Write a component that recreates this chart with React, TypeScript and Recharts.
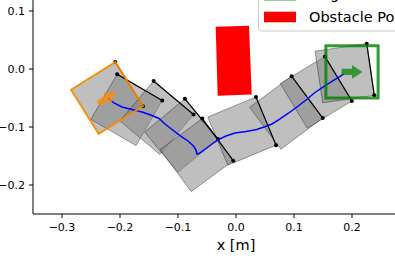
import { ScatterChart, Scatter, XAxis, YAxis } from 'recharts';

// robot poses along the planned path: centre [m], heading [deg]
const poseX = [-0.2224, -0.1887, -0.1366, -0.0942, -0.0677, 0.0102, 0.0866, 0.138, 0.1874];
const poseY = [-0.05, -0.0705, -0.084, -0.1148, -0.1484, -0.107, -0.0754, -0.0401, -0.0073];
const poseTheta = [32.0, 59.8, 49.9, 39.5, 36.3, 22.6, 36.6, 31.2, 8.3];
const robotSide = 0.09;

const goalX = 0.2;
const goalY = -0.005;
const goalTheta = 0;

// centre line of the path
const pathX = [-0.2207, -0.2103, -0.1966, -0.1793, -0.1621, -0.1448, -0.1328, -0.1224, -0.1103, -0.0966, -0.0828, -0.0733, -0.069, -0.0672, -0.0638, -0.0517, -0.0414, -0.0305, -0.0172, -0.0017, 0.0172, 0.0357, 0.0483, 0.0621, 0.0741, 0.0897, 0.1052, 0.1207, 0.1362, 0.1552, 0.1724, 0.1862];
const pathY = [-0.05, -0.0586, -0.0655, -0.0698, -0.0741, -0.0802, -0.0853, -0.0948, -0.1043, -0.1147, -0.1241, -0.1328, -0.1397, -0.1466, -0.1457, -0.1371, -0.1293, -0.1216, -0.1155, -0.1103, -0.1078, -0.1043, -0.1, -0.0948, -0.0871, -0.0767, -0.0655, -0.0534, -0.0405, -0.0276, -0.0172, -0.0086];

const obstacleX = [-0.035, 0.0224, 0.0271, -0.0316];
const obstacleY = [0.0729, 0.0747, -0.044, -0.046];

const xTicks = [-0.3, -0.2, -0.1, 0, 0.1, 0.2];
const yTicks = [-0.2, -0.1, 0, 0.1];

type Pt = { x: number; y: number };

const square = (cx: number, cy: number, deg: number, side: number): Pt[] => {
  const h = side / 2;
  const a = (deg * Math.PI) / 180;
  const c = Math.cos(a);
  const s = Math.sin(a);
  return [[h, h], [h, -h], [-h, -h], [-h, h]].map(([u, v]) => ({
    x: cx + u * c - v * s,
    y: cy + u * s + v * c,
  }));
};

// FancyArrow-like outline, centred on the pose
const arrow = (cx: number, cy: number, deg: number): Pt[] => {
  const L = 0.036, w = 0.011, hw = 0.024, hl = 0.018;
  const a = (deg * Math.PI) / 180;
  const c = Math.cos(a);
  const s = Math.sin(a);
  const local = [[0, w / 2], [L - hl, w / 2], [L - hl, hw / 2], [L, 0], [L - hl, -hw / 2], [L - hl, -w / 2], [0, -w / 2]];
  return local.map(([u, v]) => {
    const uu = u - L / 2;
    return { x: cx + uu * c - v * s, y: cy + uu * s + v * c };
  });
};

const poses = poseX.map((x, i) => square(x, poseY[i], poseTheta[i], robotSide));
const frontEdges = poses.map((p) => [p[0], p[1]]);
const startSquare = poses[0];
const goalSquare = square(goalX, goalY, goalTheta, robotSide);
const startArrow = arrow(poseX[0], poseY[0], poseTheta[0]);
const goalArrow = arrow(goalX, goalY, goalTheta);
const pathData = pathX.map((x, i) => ({ x, y: pathY[i] }));
const obstacle = obstacleX.map((x, i) => ({ x, y: obstacleY[i] }));

const polygonLine = (style: any) => (props: any) => (
  <polygon points={props.points.map((p: Pt) => `${p.x},${p.y}`).join(' ')} {...style} />
);
const noDot = () => <g />;
const blackDot = (p: any) => <circle cx={p.cx} cy={p.cy} r={2} fill="#000" />;

const fmt = (v: number) => (v < 0 ? '\u2212' : '') + Math.abs(v).toFixed(1);
const font = 'DejaVu Sans';

export default function App() {
  return (
    <div style={{ position: 'fixed', left: 0, top: 0, width: 395, height: 264, overflow: 'hidden', background: '#fff' }}>
      <div style={{ position: 'absolute', left: 0, top: -30 }}>
        <ScatterChart width={460} height={300} margin={{ top: 12, right: 21, bottom: 0, left: 0 }}>
          <XAxis
            type="number"
            dataKey="x"
            domain={[-0.35, 0.35]}
            allowDataOverflow
            ticks={xTicks}
            interval={0}
            tickFormatter={fmt}
            height={56}
            tickSize={4}
            tickMargin={5}
            axisLine={{ stroke: '#000', strokeWidth: 1 }}
            tickLine={{ stroke: '#000' }}
            tick={{ fill: '#000', fontSize: 11, fontFamily: font }}
            label={{ value: 'x [m]', position: 'insideBottom', offset: 20, fill: '#000', fontSize: 14.5, fontFamily: font }}
          />
          <YAxis
            type="number"
            dataKey="y"
            domain={[-0.25, 0.15]}
            allowDataOverflow
            ticks={yTicks}
            interval={0}
            tickFormatter={fmt}
            width={33}
            tickSize={4}
            tickMargin={4}
            axisLine={{ stroke: '#000', strokeWidth: 1 }}
            tickLine={{ stroke: '#000' }}
            tick={{ fill: '#000', fontSize: 11, fontFamily: font }}
          />
          {poses.map((p, i) => (
            <Scatter
              key={`pose-${i}`}
              data={p}
              isAnimationActive={false}
              shape={noDot}
              line={polygonLine({ fill: '#808080', fillOpacity: 0.5, stroke: '#000', strokeOpacity: 0.45, strokeWidth: 0.8 })}
            />
          ))}
          <Scatter
            data={obstacle}
            isAnimationActive={false}
            shape={noDot}
            line={polygonLine({ fill: '#ff0000', stroke: 'none' })}
          />
          {frontEdges.map((e, i) => (
            <Scatter
              key={`edge-${i}`}
              data={e}
              isAnimationActive={false}
              shape={blackDot}
              line={{ stroke: '#000', strokeWidth: 1.2 }}
              lineJointType="linear"
            />
          ))}
          <Scatter
            data={pathData}
            isAnimationActive={false}
            shape={noDot}
            line={{ stroke: '#0000ff', strokeWidth: 1.5 }}
            lineJointType="linear"
          />
          <Scatter
            data={startSquare}
            isAnimationActive={false}
            shape={noDot}
            line={polygonLine({ fill: 'none', stroke: '#ff8c00', strokeOpacity: 0.9, strokeWidth: 2 })}
          />
          <Scatter
            data={goalSquare}
            isAnimationActive={false}
            shape={noDot}
            line={polygonLine({ fill: 'none', stroke: '#008000', strokeOpacity: 0.8, strokeWidth: 3 })}
          />
          <Scatter
            data={startArrow}
            isAnimationActive={false}
            shape={noDot}
            line={polygonLine({ fill: '#ff8c00', fillOpacity: 0.75, stroke: 'none' })}
          />
          <Scatter
            data={goalArrow}
            isAnimationActive={false}
            shape={noDot}
            line={polygonLine({ fill: '#008000', fillOpacity: 0.7, stroke: 'none' })}
          />
        </ScatterChart>
      </div>
      <svg width={395} height={264} style={{ position: 'absolute', left: 0, top: 0 }}>
        <rect x={258.5} y={-30} width={170} height={61} rx={3} fill="#fff" fillOpacity={0.8} stroke="#cccccc" />
        <rect x={264} y={-9.7} width={32} height={10.6} fill="#008000" fillOpacity={0.45} />
        <text x={309} y={-1} fontSize={14.5} fontFamily={font} fill="#000">Target Pose</text>
        <rect x={264} y={11.7} width={32} height={10.6} fill="#ff0000" />
        <text x={309} y={22.3} fontSize={14.5} fontFamily={font} fill="#000">Obstacle Polygon</text>
      </svg>
    </div>
  );
}
